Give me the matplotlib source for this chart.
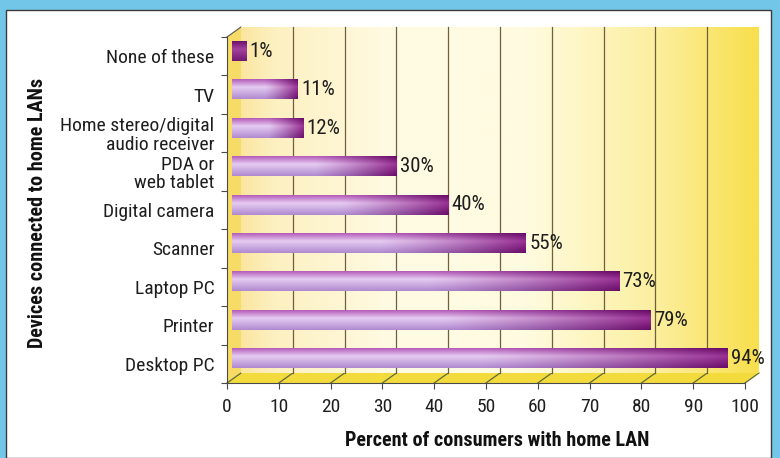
import numpy as np
import matplotlib
matplotlib.use("Agg")
import matplotlib.pyplot as plt
from matplotlib.transforms import ScaledTranslation
from matplotlib.patches import Rectangle, Polygon, FancyBboxPatch
from matplotlib.colors import to_rgb
from matplotlib import font_manager as fm

categories = ["None of these", "TV", "Home stereo/digital\naudio receiver",
              "PDA or\nweb tablet", "Digital camera", "Scanner",
              "Laptop PC", "Printer", "Desktop PC"]
values = [1, 11, 12, 30, 40, 55, 73, 79, 94]
value_labels = ["1%", "11%", "12%", "30%", "40%", "55%", "73%", "79%", "94%"]
xticks = [0, 10, 20, 30, 40, 50, 60, 70, 80, 90, 100]
xlabel = "Percent of consumers with home LAN"
ylabel = "Devices connected to home LANs"

# pick a condensed font if one is installed
entries = fm.fontManager.ttflist
names = {f.name for f in entries}
STRETCH = "normal"
if "Liberation Sans Narrow" in names:
    FAM = "Liberation Sans Narrow"
elif "Roboto Condensed" in names:
    FAM = "Roboto Condensed"
else:
    FAM = None
    for cand in ["Noto Sans", "DejaVu Sans", "Open Sans", "Roboto"]:
        if any(f.name == cand and str(f.stretch) in ("condensed", "semi-condensed", "75", "87.5") for f in entries):
            FAM = cand
            STRETCH = "condensed"
            break
    if FAM is None:
        FAM = "Liberation Sans"
plt.rcParams["font.family"] = [FAM, "DejaVu Sans"]
plt.rcParams["font.stretch"] = STRETCH

W, H, DPI = 780, 458, 100
fig = plt.figure(figsize=(W / DPI, H / DPI), dpi=DPI)
fig.patch.set_facecolor("#72c7e9")

def fx(px):
    return px / W

def fy(py):
    return 1 - py / H

# white panel
fig.patches.append(Rectangle((fx(6), fy(458)), fx(765), 448 / H, transform=fig.transFigure,
                             facecolor="white", edgecolor="#3a3a3a", lw=1.0, zorder=-5))

AX_W_PX, AX_H_PX = 518, 346
ax = fig.add_axes([fx(227), fy(383), AX_W_PX / W, AX_H_PX / H])
ax.set_facecolor("none")
ax.set_zorder(2)
n = len(categories)
ypos = np.arange(n)
XMIN, XMAX = 0, 100
YTOP, YBOT = -0.5, n - 0.5

DXB, DYB = 14, 10   # back wall offset in px
DXM, DYM = 14, 5    # bar offset in px (bars measured against back scale)
off_back = ax.transData + ScaledTranslation(DXB / DPI, DYB / DPI, fig.dpi_scale_trans)
off_bar = ax.transData + ScaledTranslation(DXM / DPI, DYM / DPI, fig.dpi_scale_trans)

ax.set_xlim(XMIN, XMAX)
ax.set_ylim(YBOT, YTOP)

# ---- back wall gradient
stops = [(0.0, "#fbe6a0"), (0.06, "#fdf0c0"), (0.3, "#fffbe4"), (0.55, "#fffbe0"),
         (0.8, "#fcefa0"), (1.0, "#f8df4c")]
t = np.linspace(0, 1, 400)
grad = np.zeros((2, 400, 3))
for c in range(3):
    grad[:, :, c] = np.interp(t, [s for s, _ in stops], [to_rgb(col)[c] for _, col in stops])
ax.imshow(grad, extent=(XMIN, XMAX, YBOT, YTOP), origin="upper", aspect="auto",
          transform=off_back, zorder=0.5, interpolation="bilinear", clip_on=False)

def Pf(x, y, d):
    disp = ax.transData.transform((x, y))
    return ((disp[0] + DXB * d) / fig.bbox.width, (disp[1] + DYB * d) / fig.bbox.height)

# side wall
side = Polygon([Pf(0, YBOT, 0), Pf(0, YTOP, 0), Pf(0, YTOP, 1), Pf(0, YBOT, 1)],
               closed=True, transform=fig.transFigure, facecolor="#f6dc66", edgecolor="none", zorder=-1)
fig.add_artist(side)
# floor
floor = Polygon([Pf(0, YBOT, 0), Pf(100, YBOT, 0), Pf(100, YBOT, 1), Pf(0, YBOT, 1)],
                closed=True, transform=fig.transFigure, facecolor="#f3db3e", edgecolor="none", zorder=-1)
fig.add_artist(floor)
fig.add_artist(plt.Line2D([Pf(0, YTOP, 0)[0], Pf(0, YTOP, 1)[0]], [Pf(0, YTOP, 0)[1], Pf(0, YTOP, 1)[1]],
                          transform=fig.transFigure, color="#555", lw=0.8, zorder=-0.5))
for v in xticks:
    a, b = Pf(v, YBOT, 0), Pf(v, YBOT, 1)
    fig.add_artist(plt.Line2D([a[0], b[0]], [a[1], b[1]], transform=fig.transFigure,
                              color="#5f6a3a", lw=0.9, zorder=-0.5))
# back wall gridlines
for v in xticks[1:-1]:
    ax.plot([v, v], [YBOT, YTOP], color="#6e5f3e", lw=0.9, transform=off_back, zorder=0.8,
            clip_on=False)

# ---- bars (cylinder look: gradient image clipped to rounded bar outline)
h = 0.5
bars = ax.barh(ypos, values, height=h, left=0, transform=off_bar,
               facecolor="none", edgecolor="none", zorder=2, clip_on=False)

ux = (XMAX - XMIN) / AX_W_PX          # data units per px in x
uy = (YBOT - YTOP) / AX_H_PX          # data units per px in y
cap = 9 * ux                          # left rounded cap extends 9 px before 0
rnd = 4.5 * ux

top_l, mid_l, bot_l = np.array(to_rgb("#b45cba")), np.array(to_rgb("#e6ccf2")), np.array(to_rgb("#b08ad0"))
top_r, mid_r, bot_r = np.array(to_rgb("#660a64")), np.array(to_rgb("#9a3296")), np.array(to_rgb("#6a0c68"))
NY, NX = 40, 300
s = np.linspace(0, 1, NY)[:, None]
tx = np.linspace(0, 1, NX)[None, :]

for i, (v, bar) in enumerate(zip(values, bars)):
    w = np.clip((tx - 0.5) / 0.5, 0, 1) ** 1.2
    if v < 5:
        w = np.ones_like(tx) * 0.9
    img = np.zeros((NY, NX, 3))
    for c in range(3):
        top = top_l[c] * (1 - w) + top_r[c] * w
        mid = mid_l[c] * (1 - w) + mid_r[c] * w
        bot = bot_l[c] * (1 - w) + bot_r[c] * w
        a = np.clip(s / 0.4, 0, 1)
        b = np.clip((s - 0.4) / 0.6, 0, 1)
        up = top * (1 - a) + mid * a
        img[:, :, c] = np.where(s <= 0.4, up, mid * (1 - b) + bot * b)
    x0 = bar.get_x() - cap
    bw = bar.get_width() + cap
    y0 = bar.get_y()
    outline = FancyBboxPatch((x0, y0), bw, bar.get_height(),
                             boxstyle=f"round,pad=0,rounding_size={rnd}",
                             mutation_aspect=uy / ux, transform=off_bar,
                             facecolor="none", edgecolor="none")
    ax.add_patch(outline)
    im = ax.imshow(img, extent=(x0, x0 + bw, y0 + bar.get_height(), y0), origin="upper",
                   aspect="auto", transform=off_bar, zorder=2, interpolation="bilinear",
                   clip_on=False)
    im.set_clip_path(outline)
    ax.annotate(value_labels[i], xy=(v, i), xycoords=off_bar, xytext=(2.5, 0),
                textcoords="offset points", ha="left", va="center", fontsize=15, color="#1e1e1e",
                zorder=3)

ax.set_xlim(XMIN, XMAX)
ax.set_ylim(YBOT, YTOP)

for sp in ["top", "right"]:
    ax.spines[sp].set_visible(False)
for sp in ["left", "bottom"]:
    ax.spines[sp].set_color("#4a4a4a")
    ax.spines[sp].set_linewidth(0.8)
    ax.spines[sp].set_zorder(4)

ax.set_xticks(xticks)
ax.set_xticklabels([str(x) for x in xticks], fontsize=14, color="#1e1e1e")
ax.tick_params(axis="x", direction="out", length=4.5, width=0.8, color="#4a4a4a", pad=6.5)

ax.set_yticks(ypos)
ax.set_yticklabels(categories, fontsize=14, color="#1e1e1e")
for lbl in ax.get_yticklabels():
    lbl.set_linespacing(1.05)
ax.tick_params(axis="y", which="major", length=0, pad=9)
ax.set_yticks(np.arange(n + 1) - 0.5, minor=True)
ax.tick_params(axis="y", which="minor", direction="out", length=4, width=0.8, color="#4a4a4a")

fig.text(fx(497), fy(440), xlabel, ha="center", va="center", fontsize=14.5, fontweight="bold",
         color="#111")
fig.text(fx(38), fy(213), ylabel, ha="center", va="center", rotation=90, fontsize=14.5,
         fontweight="bold", color="#111")

fig.savefig("out.png", dpi=DPI, facecolor=fig.get_facecolor())
